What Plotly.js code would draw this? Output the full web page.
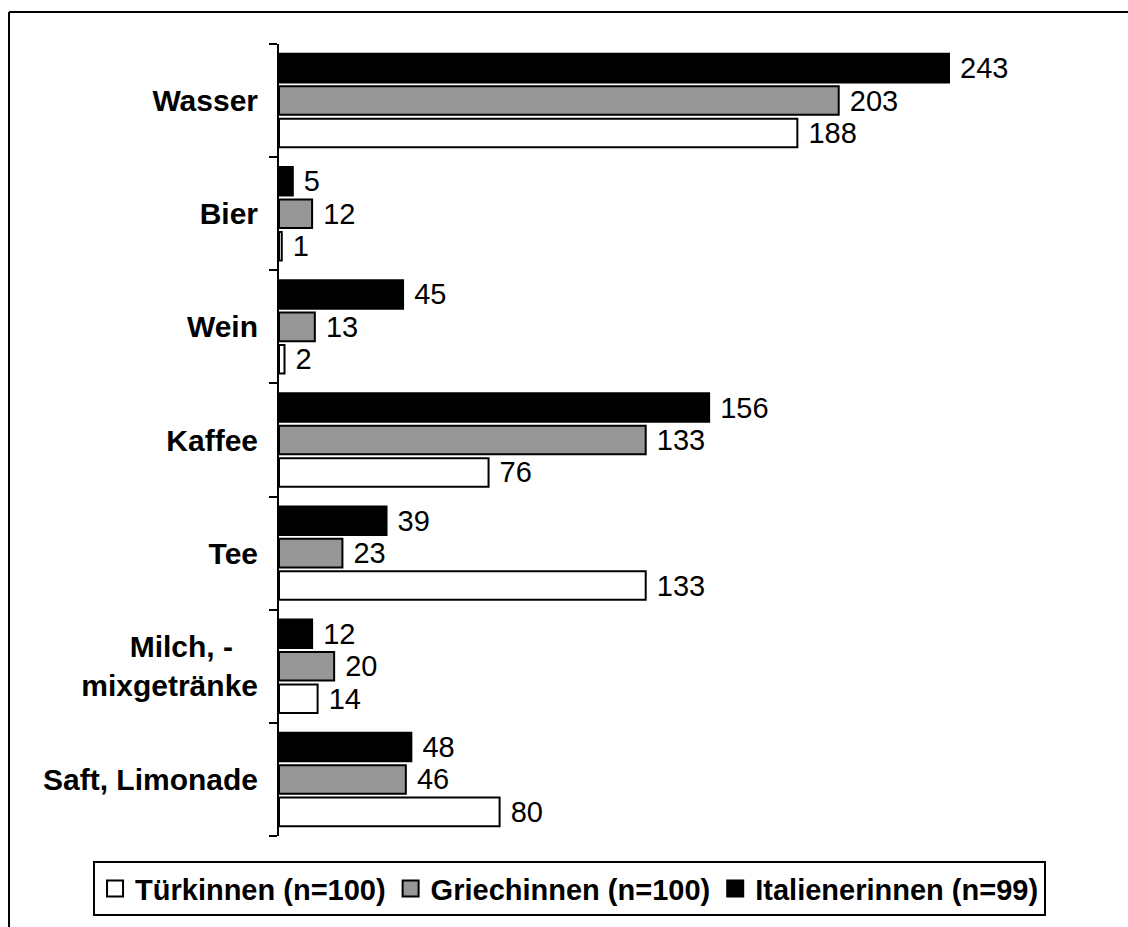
<!DOCTYPE html>
<html>
<head>
<meta charset="utf-8">
<script src="https://cdn.plot.ly/plotly-3.0.1.min.js"></script>
<style>
html, body { margin: 0; padding: 0; background: #fff; }
#chart { width: 1128px; height: 927px; }
</style>
</head>
<body>
<div id="chart"></div>
<script>
// Categories, top to bottom as in the reference
const categories = ["Wasser", "Bier", "Wein", "Kaffee", "Tee", "Milch, -\u00a0\u00a0\u00a0<br>mixgetränke", "Saft, Limonade"];
const seriesNames = ["Türkinnen (n=100)", "Griechinnen (n=100)", "Italienerinnen (n=99)"];
const tuerkinnen      = [188, 1, 2, 76, 133, 14, 80];
const griechinnen     = [203, 12, 13, 133, 23, 20, 46];
const italienerinnen  = [243, 5, 45, 156, 39, 12, 48];
const seriesColors = ["#ffffff", "#969696", "#000000"];

const FONT = "Liberation Sans, Arial, Helvetica, sans-serif";
const seriesValues = [tuerkinnen, griechinnen, italienerinnen];

const barTraces = seriesValues.map((vals, i) => ({
  type: "bar",
  orientation: "h",
  name: seriesNames[i],
  legendgroup: "g" + i,
  showlegend: false,
  y: categories,
  x: vals,
  marker: { color: seriesColors[i], line: { color: "#000", width: 2 } },
  texttemplate: "\u00a0%{x}",
  textposition: "outside",
  constraintext: "none",
  cliponaxis: false,
  textfont: { family: FONT, size: 29, color: "#000" },
  hoverinfo: "skip"
}));

// Legend-only entries (larger square swatches like the reference)
const legendTraces = seriesNames.map((name, i) => ({
  type: "scatter",
  mode: "markers",
  name: name,
  legendgroup: "g" + i,
  showlegend: true,
  x: [null],
  y: [null],
  marker: { symbol: "square", size: 16, color: seriesColors[i], line: { color: "#000", width: 2 } },
  hoverinfo: "skip"
}));

const layout = {
  width: 1128,
  height: 927,
  margin: { l: 279, r: 38, t: 44, b: 91, autoexpand: false },
  paper_bgcolor: "#fff",
  plot_bgcolor: "#fff",
  barmode: "group",
  bargap: 0.14,
  bargroupgap: 0.12,
  font: { family: FONT, color: "#000" },
  xaxis: {
    range: [0, 294.14],
    visible: false,
    showgrid: false,
    zeroline: false,
    fixedrange: true
  },
  yaxis: {
    type: "category",
    categoryorder: "array",
    categoryarray: categories.slice().reverse(),
    showline: true,
    linecolor: "#000",
    linewidth: 2,
    ticks: "outside",
    tickson: "boundaries",
    ticklen: 8,
    tickwidth: 2,
    tickcolor: "#000",
    ticklabelstandoff: 13,
    showgrid: false,
    zeroline: false,
    automargin: false,
    tickfont: { family: FONT, size: 30, color: "#000", weight: "bold" },
    fixedrange: true
  },
  showlegend: true,
  legend: {
    orientation: "h",
    xref: "paper",
    yref: "paper",
    x: -0.2293,
    xanchor: "left",
    y: -0.0316,
    yanchor: "top",
    bordercolor: "#000",
    borderwidth: 2,
    bgcolor: "#fff",
    itemsizing: "trace",
    font: { family: FONT, size: 29, color: "#000", weight: "bold" },
    traceorder: "normal",
    itemclick: false,
    itemdoubleclick: false
  },
  shapes: [
    { type: "line", xref: "paper", yref: "paper", x0: -0.3329, x1: -0.3329, y0: -0.2, y1: 1.0404, line: { color: "#000", width: 2 } },
    { type: "line", xref: "paper", yref: "paper", x0: -0.3329, x1: 1.1, y0: 1.0404, y1: 1.0404, line: { color: "#000", width: 2 } }
  ]
};

Plotly.newPlot("chart", barTraces.concat(legendTraces), layout, { displayModeBar: false, staticPlot: true });
</script>
</body>
</html>
